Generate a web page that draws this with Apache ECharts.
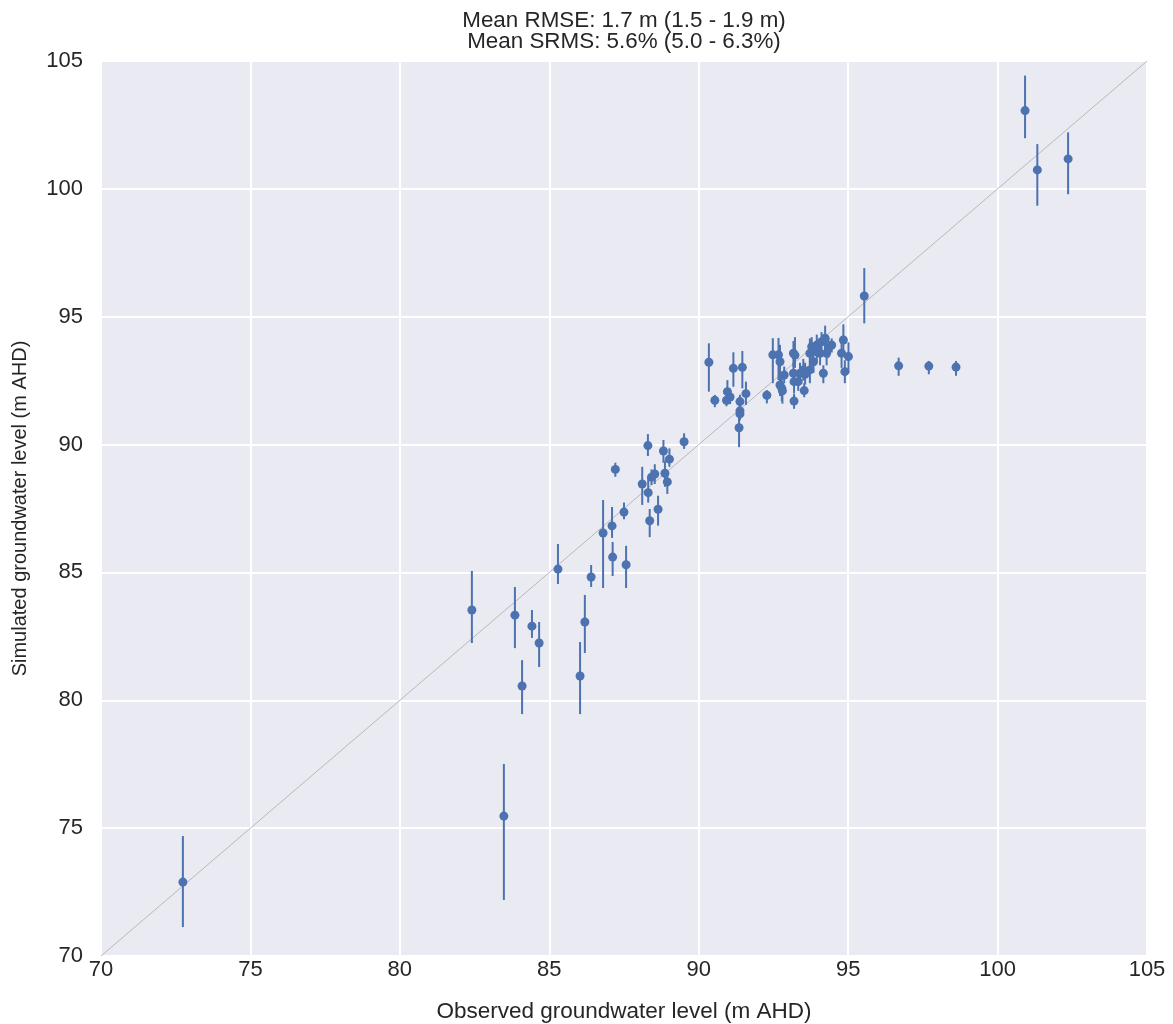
<!DOCTYPE html>
<html>
<head>
<meta charset="utf-8">
<script src="https://cdn.jsdelivr.net/npm/echarts@6/dist/echarts.min.js"></script>
<style>
html,body{margin:0;padding:0;background:#fff;}
#chart{width:1173px;height:1024px;}
</style>
</head>
<body>
<div id="chart"></div>
<script>
// Observed groundwater level (m AHD)
var observed = [72.74,83.48,82.41,83.85,84.09,84.42,84.66,85.29,86.03,86.19,86.40,86.80,87.10,87.12,87.57,87.50,87.21,88.11,88.31,88.36,88.64,88.30,88.42,88.53,88.82,89.02,88.87,88.95,89.51,90.34,90.54,90.96,91.05,90.93,91.16,91.46,91.58,91.38,91.38,91.38,91.35,92.28,92.48,92.67,92.72,92.86,92.72,92.78,92.80,93.17,93.22,93.17,93.19,93.19,93.39,93.33,93.50,93.56,93.53,93.72,93.72,93.78,93.95,93.95,93.84,94.06,94.11,94.17,94.23,94.28,94.34,94.45,94.84,94.78,95.01,94.89,95.54,96.69,97.70,98.61,100.92,101.33,102.36];
// Simulated groundwater level (m AHD), mean
var simulated = [72.89,75.47,83.53,83.33,80.56,82.90,82.24,85.13,80.95,83.06,84.82,86.54,86.82,85.60,85.30,87.36,89.03,88.46,88.12,87.02,87.47,89.96,88.72,88.85,89.75,89.43,88.88,88.54,90.11,93.22,91.73,92.07,91.86,91.73,92.98,93.02,91.99,91.68,91.32,91.20,90.66,91.93,93.51,93.51,93.24,92.72,92.33,92.20,92.10,93.57,93.50,92.79,92.46,91.70,92.79,92.46,92.92,92.75,92.11,92.92,93.57,93.83,93.63,93.89,93.24,93.57,94.02,92.79,94.16,93.57,93.77,93.89,94.09,93.57,93.44,92.85,95.81,93.08,93.07,93.03,103.06,100.74,101.17];
// Lower end of simulated range
var simLow = [71.13,72.19,82.24,82.04,79.46,82.44,81.30,84.55,79.46,81.85,84.43,84.39,86.35,84.86,84.39,87.08,88.74,87.64,87.73,86.38,86.83,89.55,88.42,88.46,89.29,89.13,88.35,88.07,89.83,92.07,91.46,91.61,91.58,91.50,92.26,92.20,91.55,91.40,91.05,90.95,89.90,91.61,92.40,92.52,92.60,92.40,91.90,91.70,91.60,93.05,93.00,92.40,92.00,91.40,92.40,92.10,92.50,92.35,91.85,92.40,93.10,93.40,93.20,93.50,92.80,93.10,93.60,92.40,93.70,93.10,93.40,93.60,93.50,93.00,92.80,92.40,94.74,92.69,92.75,92.69,101.98,99.34,99.79];
// Upper end of simulated range
var simHigh = [74.69,77.51,85.06,84.43,81.57,83.53,83.06,86.11,82.28,84.12,85.29,87.83,87.56,86.19,86.04,87.73,89.29,89.13,88.73,87.48,88.00,90.41,89.03,89.23,90.18,89.85,89.37,88.88,90.44,93.96,91.94,92.52,92.13,92.00,93.61,93.66,92.46,91.95,91.60,91.45,91.04,92.13,94.16,94.17,93.90,93.05,92.70,92.60,92.40,94.05,94.20,93.20,92.90,91.98,93.20,92.85,93.35,93.20,92.40,93.40,94.15,94.20,94.05,94.30,93.70,94.00,94.40,93.10,94.65,94.10,94.15,94.15,94.70,94.15,94.00,93.30,96.90,93.40,93.27,93.27,104.43,101.75,102.21];
// 1:1 reference line end points
var oneToOne = [[70,70],[105,105]];
var axisTicks = {min:70, max:105, interval:5};
var titleLines = ['Mean RMSE: 1.7 m (1.5 - 1.9 m)', 'Mean SRMS: 5.6% (5.0 - 6.3%)'];
var xName = 'Observed groundwater level (m AHD)';
var yName = 'Simulated groundwater level (m AHD)';

var pts = observed.map(function(x,i){return [x, simulated[i]];});
var errs = observed.map(function(x,i){return [x, simLow[i], simHigh[i]];});

var FONT = '"Liberation Sans", Arial, sans-serif';
var TXT = '#262626';
var BLUE = '#4C72B0';

var chart = echarts.init(document.getElementById('chart'), null, {renderer:'canvas'});
var axisCommon = {
  type:'value', min:axisTicks.min, max:axisTicks.max, interval:axisTicks.interval,
  axisLine:{show:false}, axisTick:{show:false},
  splitLine:{show:true, lineStyle:{color:'#ffffff', width:2}},
  axisLabel:{color:TXT, fontSize:22, fontFamily:FONT},
  nameLocation:'middle',
  nameTextStyle:{color:TXT, fontFamily:FONT}
};
chart.setOption({
  animation:false,
  backgroundColor:'#ffffff',
  grid:{left:101, right:26, top:61, bottom:68, show:true, backgroundColor:'#EAEAF2', borderWidth:0,
        containLabel:false, outerBoundsMode:'none'},
  xAxis: Object.assign({}, axisCommon, {
    name:xName, nameGap:44,
    nameTextStyle:{color:TXT, fontFamily:FONT, fontSize:22.5},
    axisLabel:Object.assign({}, axisCommon.axisLabel, {margin:3})
  }),
  yAxis: Object.assign({}, axisCommon, {
    name:yName, nameGap:71,
    nameTextStyle:{color:TXT, fontFamily:FONT, fontSize:20},
    axisLabel:Object.assign({}, axisCommon.axisLabel, {margin:18})
  }),
  graphic:[
    {type:'text', x:624, y:10, style:{text:titleLines[0], fill:TXT, font:'22.4px '+FONT, textAlign:'center', textVerticalAlign:'top'}},
    {type:'text', x:624, y:31, style:{text:titleLines[1], fill:TXT, font:'22.4px '+FONT, textAlign:'center', textVerticalAlign:'top'}}
  ],
  series:[
    {
      type:'line', data:oneToOne, showSymbol:false, symbol:'none', z:1,
      lineStyle:{color:'#b8b8b8', width:1}, silent:true
    },
    {
      type:'custom', z:2, silent:true,
      renderItem:function(params, api){
        var x = api.value(0);
        var a = api.coord([x, api.value(1)]);
        var b = api.coord([x, api.value(2)]);
        return {type:'line', shape:{x1:a[0], y1:a[1], x2:b[0], y2:b[1]}, style:{stroke:BLUE, lineWidth:2}};
      },
      encode:{x:0, y:[1,2]},
      data:errs
    },
    {
      type:'scatter', z:3, data:pts, symbol:'circle', symbolSize:9,
      itemStyle:{color:BLUE, opacity:1}
    }
  ]
});
</script>
</body>
</html>
